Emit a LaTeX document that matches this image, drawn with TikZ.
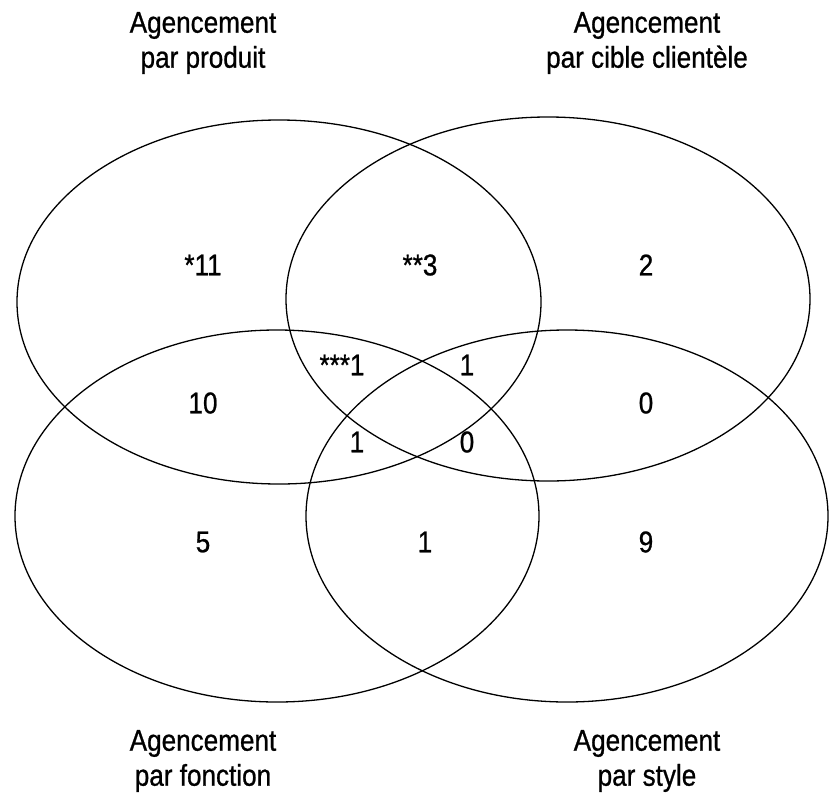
\documentclass[tikz,border=0pt]{standalone}
\usepackage{fontspec}
\setmainfont{Liberation Sans}[FakeStretch=0.87, FakeBold=0.8]
\usetikzlibrary{shapes.geometric}

\begin{document}
\begin{tikzpicture}[x=1pt, y=-1pt,
                    ens/.style={ellipse, draw, line width=1.3pt, inner sep=0pt, outer sep=0pt, minimum width=524pt},
                    titre/.style={align=center, font=\fontsize{30}{35}\selectfont},
                    nb/.style={font=\fontsize{30}{35}\selectfont}]
                    \useasboundingbox (0,0) rectangle (829,798);
                    % les quatre ensembles
                    \node[ens, minimum height=364pt] (produit) at (279,302) {};
                    \node[ens, minimum height=364pt] (cible) at (548,299) {};
                    \node[ens, minimum height=372pt] (fonction) at (277,516) {};
                    \node[ens, minimum height=372pt, minimum width=522pt] (sty) at (567,516) {};
                    % titres
                    \node[titre] (tprod) at (203,43) {Agencement\\par produit};
                    \node[titre] (tcible) at (647,43) {Agencement\\par cible clientèle};
                    \node[titre] (tfonc) at (203,761) {Agencement\\par fonction};
                    \node[titre] (tsty) at (647,761) {Agencement\\par style};
                    % effectifs
                    \node[nb] (p) at (203,265) {*11};
                    \node[nb] (pc) at (420,265) {**3};
                    \node[nb] (c) at (646,265) {2};
                    \node[nb] (pcf) at (342,365) {***1};
                    \node[nb] (pcs) at (467,365) {1};
                    \node[nb] (pf) at (203,403) {10};
                    \node[nb] (cs) at (646,403) {0};
                    \node[nb] (pfs) at (357,442) {1};
                    \node[nb] (pcfs) at (467,442) {0};
                    \node[nb] (f) at (203,542) {5};
                    \node[nb] (fs) at (425,542) {1};
                    \node[nb] (s) at (646,542) {9};
                \end{tikzpicture}
\end{document}
